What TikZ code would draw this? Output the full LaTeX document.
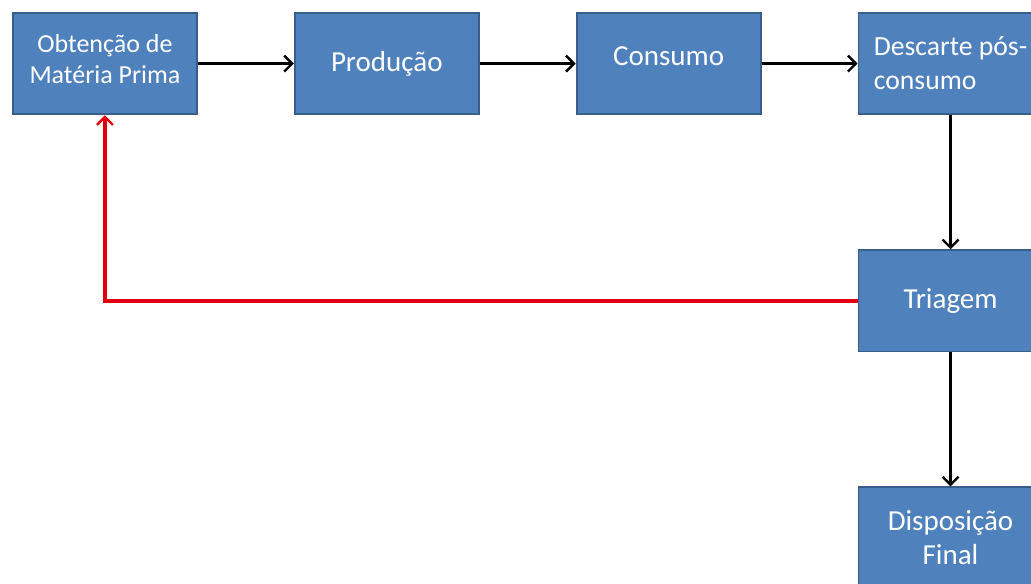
\documentclass[tikz,border=0pt]{standalone}
\usepackage{fontspec}
\setmainfont{Carlito}
\usetikzlibrary{arrows.meta, positioning}
\definecolor{boxblue}{HTML}{4F81BD}
\definecolor{boxedge}{HTML}{385D8A}
\definecolor{loopred}{HTML}{E2000F}
\tikzset{
    stage/.style={draw=boxedge, line width=1.4pt, fill=boxblue, text=white, align=center, inner sep=0pt, minimum width=138pt, minimum height=76pt, font=\fontsize{21.75}{25.5}\selectfont},
    smallstage/.style={stage, font=\fontsize{19.5}{23.25}\selectfont},
    arrow/.style={-{Straight Barb[length=6pt,width=12pt,line width=1.8pt]}, line width=2pt, draw=black},
    backflow/.style={arrow, draw=loopred, line width=3pt}
}

\begin{document}
\begin{tikzpicture}[node distance=100.5pt and 72pt]
    \clip (0,0) rectangle (773.25pt,-437.25pt);
    \node (obtain) [smallstage, anchor=north west, text depth=7.5pt] at (9pt,-9pt) {Obtenção de\\Matéria Prima};
    \node (produce) [stage, right=of obtain] {Produção};
    \node (consume) [stage, right=of produce, text depth=12pt] {Consumo};
    \node (discard) [stage, right=of consume, align=left, font=\fontsize{20.75}{25.5}\selectfont] {Descarte pós-\\consumo};
    \node (sort) [stage, below=of discard] {Triagem};
    \node (dispose) [stage, below=of sort] {Disposição\\Final};

    \draw [arrow] (obtain) -- (produce);
    \draw [arrow] (produce) -- (consume);
    \draw [arrow] (consume) -- (discard);
    \draw [arrow] (discard) -- (sort);
    \draw [arrow] (sort) -- (dispose);
    \draw [backflow] (sort.west) -| (obtain.south);
\end{tikzpicture}
\end{document}
